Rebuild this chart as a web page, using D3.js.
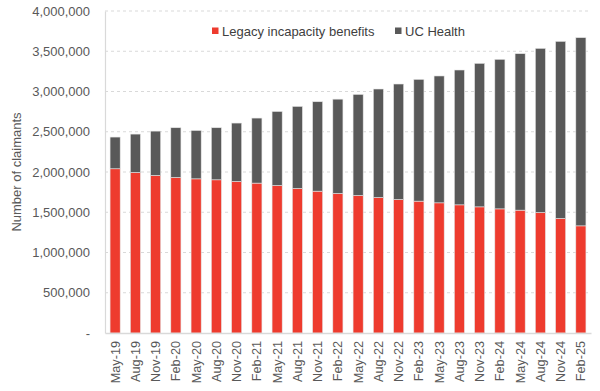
<!DOCTYPE html>
<html>
<head>
<meta charset="utf-8">
<script src="https://cdn.jsdelivr.net/npm/d3@7"></script>
<style>
  body { margin:0; background:#fff; }
  svg { font-family: "Liberation Sans", Arial, sans-serif; }
  .grid line { stroke:#d9d9d9; stroke-dasharray:3,3; }
</style>
</head>
<body>
<svg id="chart" width="600" height="391"></svg>
<script>
// Data
const months = ['May-19','Aug-19','Nov-19','Feb-20','May-20','Aug-20','Nov-20','Feb-21','May-21','Aug-21','Nov-21','Feb-22',
                'May-22','Aug-22','Nov-22','Feb-23','May-23','Aug-23','Nov-23','Feb-24','May-24','Aug-24','Nov-24','Feb-25'];
const legacy = [2040000,1994000,1957000,1932000,1915000,1903000,1882000,1862000,1832000,1795000,1762000,1733000,
                1708000,1683000,1658000,1638000,1617000,1592000,1567000,1542000,1526000,1496000,1422000,1331000];
const ucHealth = [394000,477000,551000,618000,601000,647000,726000,808000,920000,1020000,1111000,1172000,
                  1256000,1348000,1435000,1513000,1576000,1675000,1783000,1858000,1944000,2040000,2201000,2338000];
const seriesNames = ['Legacy incapacity benefits','UC Health'];
const colors = ['#ee3b2e','#595959'];
const yTicks = [0,500000,1000000,1500000,2000000,2500000,3000000,3500000,4000000];

const svg = d3.select('#chart');
const m = {top:11, right:9, bottom:58, left:105};
const W = 600, H = 391;
const iw = W - m.left - m.right, ih = H - m.top - m.bottom;
const g = svg.append('g').attr('transform',`translate(${m.left},${m.top})`);

const x = d3.scaleBand().domain(months).range([0,iw]).paddingInner(0.5).paddingOuter(0.25);
const y = d3.scaleLinear().domain([0,4000000]).range([ih,0]);

// gridlines
g.append('g').attr('class','grid')
  .selectAll('line').data(yTicks.slice(1)).join('line')
  .attr('x1',0).attr('x2',iw).attr('y1',d=>y(d)).attr('y2',d=>y(d));

// stacked bars
const rows = months.map((mo,i)=>({month:mo, legacy:legacy[i], uc:ucHealth[i]}));
const stack = d3.stack().keys(['legacy','uc'])(rows);
g.selectAll('g.series').data(stack).join('g')
  .attr('class','series').attr('fill',(d,i)=>colors[i])
  .selectAll('rect').data(d=>d).join('rect')
  .attr('x',d=>x(d.data.month)).attr('width',x.bandwidth())
  .attr('y',d=>y(d[1])).attr('height',d=>y(d[0])-y(d[1]))
  .attr('stroke','#e6e6e6').attr('stroke-width',0.6);

// y axis
const yAxis = g.append('g').call(d3.axisLeft(y).tickValues(yTicks).tickSize(0).tickPadding(15)
  .tickFormat(d=> d===0 ? '-' : d3.format(',')(d)));
yAxis.select('.domain').attr('stroke','#d9d9d9').attr('stroke-width',1.2);
yAxis.selectAll('text').attr('fill','#595959').style('font-size','13px');

// x axis
const xAxis = g.append('g').attr('transform',`translate(0,${ih})`)
  .call(d3.axisBottom(x).tickSize(0).tickPadding(0));
xAxis.select('.domain').attr('stroke','#d9d9d9').attr('stroke-width',1.5);
xAxis.selectAll('text').attr('fill','#595959').style('font-size','12.7px')
  .attr('text-anchor','end').attr('dy','0.35em')
  .attr('transform','translate(0,8) rotate(-90)');

// y axis title
svg.append('text').attr('transform',`translate(21,${m.top+ih/2}) rotate(-90)`)
  .attr('text-anchor','middle').attr('fill','#595959').style('font-size','13px')
  .text('Number of claimants');

// legend
const legendX = [212,395];
const lg = svg.append('g');
seriesNames.forEach((n,i)=>{
  lg.append('rect').attr('x',legendX[i]).attr('y',27.5).attr('width',6.5).attr('height',6.5).attr('fill',colors[i]);
  lg.append('text').attr('x',legendX[i]+10).attr('y',35.5).attr('fill','#404040').style('font-size','13px').text(n);
});
</script>
</body>
</html>
